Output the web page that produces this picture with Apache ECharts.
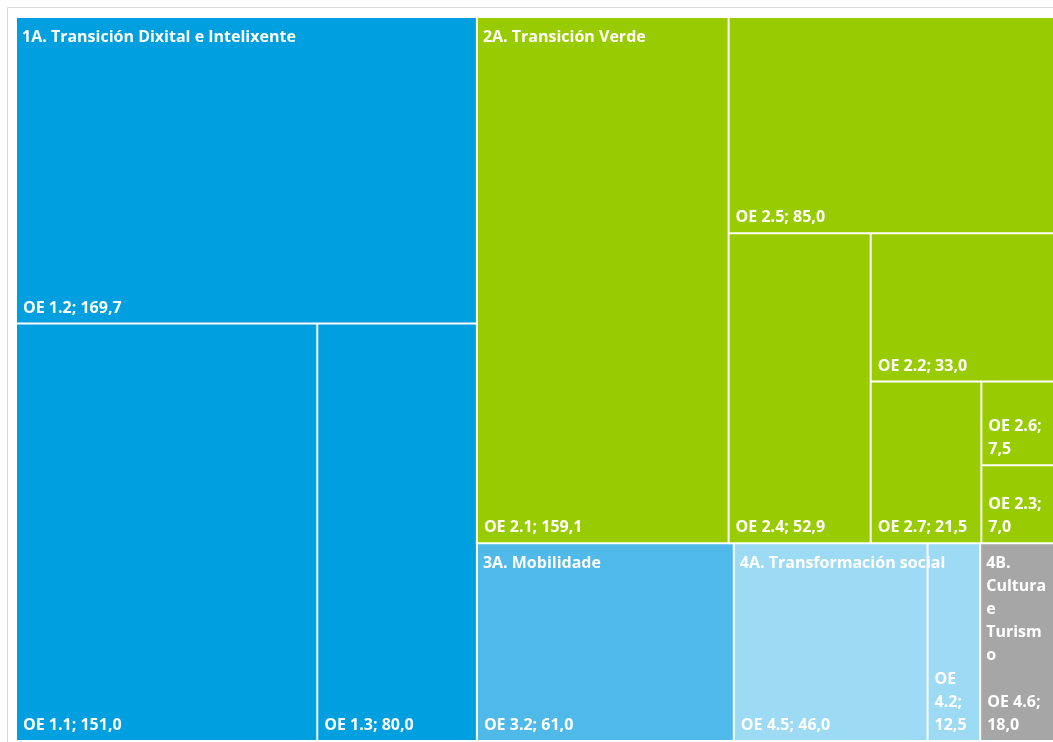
<!DOCTYPE html>
<html>
<head>
<meta charset="utf-8">
<script src="https://cdn.jsdelivr.net/npm/echarts@6/dist/echarts.min.js"></script>
<style>
  html, body { margin: 0; padding: 0; background: #fff; overflow: hidden; }
  #frame { position: absolute; left: 7px; top: 7px; width: 1100px; height: 800px; border: 1px solid #d9d9d9; }
  #main { position: absolute; left: 0; top: 0; width: 1053px; height: 742px; }
</style>
</head>
<body>
<div id="frame"></div>
<div id="main"></div>
<script>
// eixos
const groupNames = [
  '1A. Transición Dixital e Intelixente',
  '2A. Transición Verde',
  '3A. Mobilidade',
  '4A. Transformación social',
  '4B. Cultura e Turismo'
]
const groupColors = ['#009fe0', '#99cc00', '#4fbae9', '#9ddaf3', '#a6a6a6']

// obxectivos específicos (OE) e importe
const leafNames = ['OE 1.2', 'OE 1.1', 'OE 1.3', 'OE 2.1', 'OE 2.5', 'OE 2.4', 'OE 2.2', 'OE 2.7', 'OE 2.6', 'OE 2.3', 'OE 3.2', 'OE 4.5', 'OE 4.2', 'OE 4.6']
const leafValues = [169.7, 151.0, 80.0, 159.1, 85.0, 52.9, 33.0, 21.5, 7.5, 7.0, 61.0, 46.0, 12.5, 18.0]
const leafGroup = [0, 0, 0, 1, 1, 1, 1, 1, 1, 1, 2, 3, 3, 4]

const clear = 'rgba(0,0,0,0)'

// titleLayer = true -> capa transparente: só o fillo maior leva o nome do eixo (arriba á esquerda)
function buildData(titleLayer) {
  return groupNames.map((g, gi) => {
    let kids = []
    leafNames.forEach((n, i) => {
      if (leafGroup[i] === gi) kids.push({ name: n, value: leafValues[i] })
    })
    if (titleLayer) {
      let maxV = Math.max(...kids.map(k => k.value))
      kids.forEach(k => {
        k.itemStyle = { color: clear, borderColor: clear }
        if (k.value === maxV) {
          k.label = { show: true, formatter: g, overflow: gi === 3 ? 'none' : 'break' }
        } else {
          k.label = { show: false }
        }
      })
    }
    return {
      name: g,
      itemStyle: titleLayer ? { color: clear, borderColor: clear } : { color: groupColors[gi] },
      children: kids
    }
  })
}

const common = {
  type: 'treemap',
  left: 16,
  top: 17,
  width: 1040,
  height: 724,
  roam: false,
  nodeClick: false,
  breadcrumb: { show: false },
  squareRatio: 0.0001, // unha caixa por fila, coma en Excel
  animation: false
}

const labelFont = {
  color: '#fff',
  fontFamily: 'Open Sans',
  fontWeight: 'bold',
  fontSize: 16,
  lineHeight: 23
}

let myChart = echarts.init(document.getElementById('main'))
let option = {
  animation: false,
  series: [
    Object.assign({}, common, {
      name: 'OE',
      levels: [
        { itemStyle: { borderWidth: 0, gapWidth: 0 } },
        { itemStyle: { borderWidth: 0, gapWidth: 0 } },
        { itemStyle: { borderWidth: 1, borderColor: '#ffffff', gapWidth: 0 } }
      ],
      label: Object.assign({
        show: true,
        position: 'insideBottomLeft',
        padding: [5, 5, 3, 6],
        overflow: 'break',
        formatter: function (p) {
          return p.name + '; ' + (+p.value).toFixed(1).replace('.', ',')
        }
      }, labelFont),
      data: buildData(false)
    }),
    Object.assign({}, common, {
      name: 'eixos',
      silent: true,
      levels: [
        { itemStyle: { borderWidth: 0, gapWidth: 0, borderColor: clear } },
        { itemStyle: { borderWidth: 0, gapWidth: 0, borderColor: clear } },
        { itemStyle: { borderWidth: 0, gapWidth: 0, borderColor: clear, color: clear } }
      ],
      label: Object.assign({
        show: true,
        position: 'insideTopLeft',
        padding: [9, 5, 5, 6]
      }, labelFont),
      data: buildData(true)
    })
  ]
}
myChart.setOption(option)
</script>
</body>
</html>
